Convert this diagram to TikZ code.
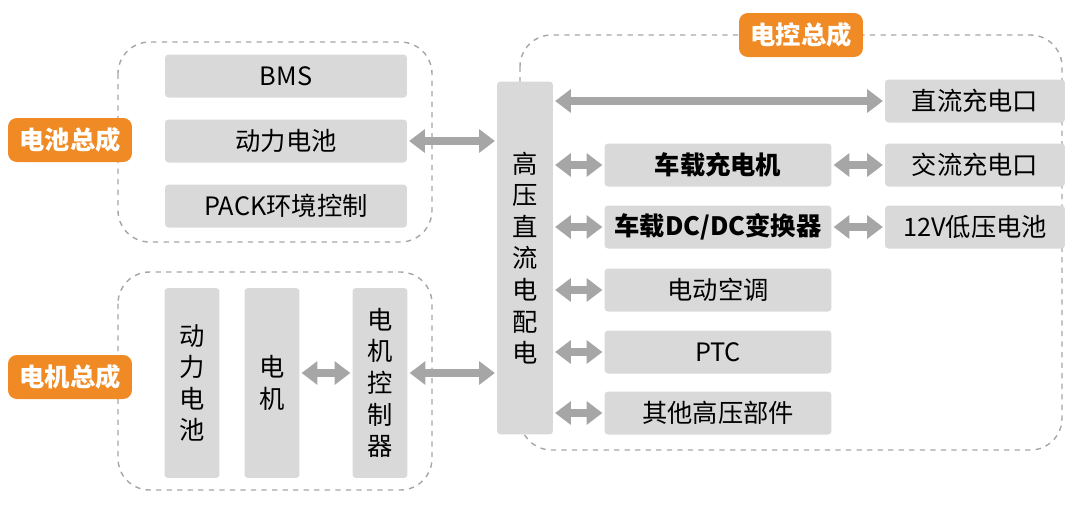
\documentclass[tikz,border=0pt]{standalone}
\usepackage{fontspec}
\setmainfont{Noto Sans CJK SC}
\usetikzlibrary{arrows.meta, positioning}

\definecolor{boxgray}{HTML}{D9D9D9}
\definecolor{arrowgray}{HTML}{A6A6A6}
\definecolor{labelorange}{HTML}{F08A24}

\begin{document}
\begin{tikzpicture}[
    x=0.02cm, y=-0.02cm,
    part/.style={fill=boxgray, rounded corners=2pt, inner sep=0pt, font=\Large}, % grey component box
    group/.style={draw=gray!70, dashed, rounded corners=18pt, thick}, % dashed assembly frame
    tag/.style={fill=labelorange, text=white, rounded corners=5pt, font=\Large\bfseries, minimum width=2.48cm, minimum height=0.88cm}, % orange assembly label
    link/.style={{Triangle[length=9pt,width=13pt]}-{Triangle[length=9pt,width=13pt]}, line width=5pt, arrowgray, shorten <=1pt, shorten >=1pt} % double arrow
  ]
  \useasboundingbox (0,0) rectangle (1080,505);

  % --- Frames ---
  \draw[group] (118,42) rectangle (432,242);
  \draw[group] (118,272) rectangle (432,490);
  \draw[group] (520,35) rectangle (1062,450);

  % --- Labels ---
  \node[tag] (battag) at (70,140) {电池总成};
  \node[tag] (mottag) at (70,377) {电机总成};
  \node[tag] (ctrltag) at (801,35) {电控总成};

  % --- Battery assembly ---
  \node[part, minimum width=4.84cm, minimum height=0.86cm] (bms) at (286,76) {BMS};
  \node[part, minimum width=4.84cm, minimum height=0.86cm] (pack) at (286,141) {动力电池};
  \node[part, minimum width=4.84cm, minimum height=0.86cm] (packenv) at (286,206) {PACK环境控制};

  % --- Motor assembly ---
  \node[part, minimum width=1.1cm, minimum height=3.8cm, align=center] (mbat) at (192,383) {动\\力\\电\\池};
  \node[part, minimum width=1.1cm, minimum height=3.8cm, align=center] (motor) at (272,383) {电\\机};
  \node[part, minimum width=1.1cm, minimum height=3.8cm, align=center] (mctrl) at (380,383) {电\\机\\控\\制\\器};

  % --- High voltage distribution ---
  \node[part, minimum width=1.12cm, minimum height=7.06cm, align=center] (hv) at (525,258) {高\\压\\直\\流\\电\\配\\电};

  % --- Control assembly ---
  \node[part, minimum width=3.6cm, minimum height=0.86cm] (dcport) at (975,101) {直流充电口};
  \node[part, minimum width=4.54cm, minimum height=0.86cm] (obc) at (718,165) {\bfseries 车载充电机};
  \node[part, minimum width=3.6cm, minimum height=0.86cm] (acport) at (975,165) {交流充电口};
  \node[part, minimum width=4.54cm, minimum height=0.86cm] (dcdc) at (718,227) {\bfseries 车载DC/DC变换器};
  \node[part, minimum width=3.6cm, minimum height=0.86cm] (lvbat) at (975,227) {12V低压电池};
  \node[part, minimum width=4.54cm, minimum height=0.86cm] (ac) at (718,290) {电动空调};
  \node[part, minimum width=4.54cm, minimum height=0.86cm] (ptc) at (718,352) {PTC};
  \node[part, minimum width=4.54cm, minimum height=0.86cm] (other) at (718,413) {其他高压部件};

  % --- Connectors ---
  \draw[link] (pack.east) -- (hv.west |- pack.east);
  \draw[link] (motor.east |- 0,373) -- (mctrl.west |- 0,373);
  \draw[link] (mctrl.east |- 0,373) -- (hv.west |- 0,373);
  \draw[link] (hv.east |- dcport.west) -- (dcport.west);
  \foreach \n in {obc, dcdc, ac, ptc, other}
    \draw[link] (hv.east |- \n.west) -- (\n.west);
  \draw[link] (obc.east) -- (acport.west);
  \draw[link] (dcdc.east) -- (lvbat.west);
\end{tikzpicture}
\end{document}
